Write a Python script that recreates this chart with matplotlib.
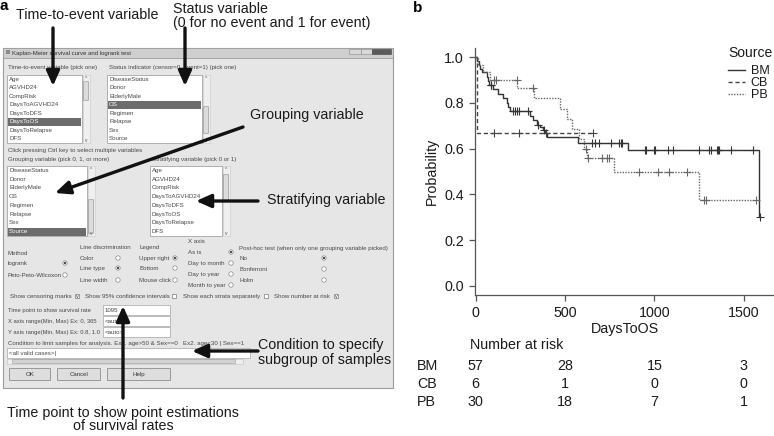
import numpy as np
import matplotlib
matplotlib.use('Agg')
import matplotlib.pyplot as plt
from matplotlib.patches import Rectangle, Circle, FancyBboxPatch
from matplotlib.lines import Line2D
from matplotlib.transforms import blended_transform_factory

plt.rcParams['font.family'] = ['Liberation Sans', 'DejaVu Sans']

# ---------------- panel b: Kaplan-Meier data ----------------
bm_time = [0, 8, 16, 26, 34, 61, 68, 76, 99, 127, 155, 173, 183, 192, 304, 322,
           341, 360, 375, 388, 401, 573, 854, 1586, 1593]
bm_surv = [1.0, 0.982, 0.965, 0.947, 0.935, 0.912, 0.895, 0.877, 0.859, 0.840,
           0.821, 0.800, 0.782, 0.763, 0.741, 0.724, 0.705, 0.695, 0.680, 0.668,
           0.653, 0.625, 0.595, 0.300, 0.300]
bm_cens = [83, 88, 207, 220, 233, 240, 294, 350, 382, 650, 668, 690, 760, 805,
           812, 818, 947, 953, 998, 1003, 1078, 1106, 1251, 1307, 1317, 1352,
           1358, 1364, 1432, 1553, 1593]

cb_time = [0, 5, 658]
cb_surv = [1.0, 0.667, 0.667]
cb_cens = [104, 244, 393, 658]

pb_time = [0, 12, 40, 80, 233, 328, 471, 512, 537, 580, 608, 622, 774, 1251, 1568]
pb_surv = [1.0, 0.967, 0.933, 0.900, 0.865, 0.820, 0.775, 0.730, 0.685, 0.640,
           0.600, 0.560, 0.497, 0.375, 0.375]
pb_cens = [104, 114, 229, 322, 615, 626, 708, 733, 748, 915, 1018, 1083, 1183,
           1280, 1290, 1568]

risk_times = [0, 500, 1000, 1500]
risk_bm = [57, 28, 15, 3]
risk_cb = [6, 1, 0, 0]
risk_pb = [30, 18, 7, 1]
y_ticks = [0.0, 0.2, 0.4, 0.6, 0.8, 1.0]

# ---------------- panel a: dialog contents ----------------
time_items = ['Age', 'AGVHD24', 'CompRisk', 'DaysToAGVHD24', 'DaysToDFS',
              'DaysToOS', 'DaysToRelapse', 'DFS']
status_items = ['DiseaseStatus', 'Donor', 'ElderlyMale', 'OS', 'Regimen',
                'Relapse', 'Sex', 'Source']
method_opts = ['logrank', 'Peto-Peto-Wilcoxon']
line_opts = ['Color', 'Line type', 'Line width']
legend_opts = ['Upper right', 'Bottom', 'Mouse click']
xaxis_opts = ['As is', 'Day to month', 'Day to year', 'Month to year']
posthoc_opts = ['No', 'Bonferroni', 'Holm']
check_opts = ['Show censoring marks', 'Show 95% confidence intervals',
              'Show each strata separately', 'Show number at risk']
check_state = [True, False, False, True]
field_labels = ['Time point to show survival rate',
                'X axis range(Min, Max) Ex: 0, 365',
                'Y axis range(Min, Max) Ex: 0.8, 1.0']
field_values = ['1095', '<auto>', '<auto>']
buttons = ['OK', 'Cancel', 'Help']

GUI_TXT = '#474747'
INK = '#1a1a1a'
SMALL = 4.4
BIG = 10.3

fig = plt.figure(figsize=(7.74, 4.36), dpi=100)
ov = fig.add_axes([0, 0, 1, 1])
ov.set_xlim(0, 774)
ov.set_ylim(436, 0)
ov.axis('off')


def listbox(x, y, w, h, items, selected, thumb):
    ov.add_patch(Rectangle((x, y), w, h, fc='white', ec='#a5a5a5', lw=0.6))
    step = h / len(items)
    for i, name in enumerate(items):
        cy = y + step * (i + 0.5)
        col = GUI_TXT
        if name == selected:
            ov.add_patch(Rectangle((x + 0.8, cy - step / 2 + 0.4), w - 1.6, step - 0.8,
                                   fc='#6c6c6c', ec='none'))
            col = 'white'
        ov.text(x + 2, cy, name, fontsize=SMALL, color=col, va='center')
    # scrollbar
    ov.add_patch(Rectangle((x + w + 0.5, y), 7, h, fc='#efefef', ec='#c8c8c8', lw=0.4))
    ov.add_patch(FancyBboxPatch((x + w + 1.8, thumb[0]), 4.4, thumb[1] - thumb[0],
                                boxstyle='round,pad=0.3', fc='#dcdcdc', ec='#9a9a9a', lw=0.5))
    ov.text(x + w + 4, y + 3, '^', fontsize=3.5, color='#555555', ha='center', va='center')
    ov.text(x + w + 4, y + h - 3, 'v', fontsize=3.5, color='#555555', ha='center', va='center')


def radio_group(title, tx, ty, opts, ys, rx, sel):
    ov.text(tx, ty, title, fontsize=SMALL, color=GUI_TXT, va='center')
    for i, (name, yy) in enumerate(zip(opts, ys)):
        ov.text(tx, yy, name, fontsize=SMALL, color=GUI_TXT, va='center')
        ov.add_patch(Circle((rx, yy), 2.2, fc='white', ec='#8a8a8a', lw=0.5))
        if i == sel:
            ov.add_patch(Circle((rx, yy), 1.2, fc='#444444', ec='none'))


def arrow(tail, head):
    ov.annotate('', xy=head, xytext=tail,
                arrowprops=dict(arrowstyle='-|>,head_length=0.9,head_width=0.4',
                                lw=2.4, color='#111111', mutation_scale=10,
                                shrinkA=0, shrinkB=0), zorder=10)


# window
ov.add_patch(Rectangle((3, 48), 390, 340, fc='#e6e6e6', ec='#9c9c9c', lw=0.8))
ov.add_patch(Rectangle((3, 48), 390, 10, fc='#cfcfcf', ec='#9c9c9c', lw=0.6))
ov.add_patch(Rectangle((6, 50.5), 4, 4, fc='#8c8c8c', ec='none'))
ov.text(12, 53, 'Kaplan-Meier survival curve and logrank test', fontsize=4.3,
        color='#333333', va='center')
ov.add_patch(Rectangle((349, 49), 12, 5, fc='#d8d8d8', ec='#8a8a8a', lw=0.4))
ov.add_patch(Rectangle((361, 49), 11, 5, fc='#d8d8d8', ec='#8a8a8a', lw=0.4))
ov.add_patch(Rectangle((372, 49), 19, 5, fc='#5a5a5a', ec='#444444', lw=0.4))

ov.text(8, 68, 'Time-to-event variable (pick one)', fontsize=SMALL, color=GUI_TXT, va='center')
ov.text(109, 68, 'Status indicator (censor=0, event=1) (pick one)', fontsize=SMALL,
        color=GUI_TXT, va='center')
listbox(7, 75, 75, 68, time_items, 'DaysToOS', (82, 100))
listbox(107, 75, 95, 68, status_items, 'OS', (107, 133))
ov.text(8, 150, 'Click pressing Ctrl key to select multiple variables', fontsize=SMALL,
        color=GUI_TXT, va='center')
ov.text(8, 159, 'Grouping variable (pick 0, 1, or more)', fontsize=SMALL, color=GUI_TXT,
        va='center')
ov.text(152, 159, 'Stratifying variable (pick 0 or 1)', fontsize=SMALL, color=GUI_TXT,
        va='center')
listbox(7, 166, 80, 70, status_items, 'Source', (200, 233))
listbox(150, 166, 72, 70, time_items, None, (175, 200))

radio_group('Method', 8, 253, method_opts, [263, 275], 65, 0)
radio_group('Line discrimination', 80, 247, line_opts, [258, 268, 280], 118, 1)
radio_group('Legend', 139, 247, legend_opts, [258, 268, 280], 175, 0)
radio_group('X axis', 188, 241, xaxis_opts, [252, 263, 274, 285], 231, 0)
radio_group('Post-hoc test (when only one grouping variable picked)', 239, 248,
            posthoc_opts, [258, 269, 280], 324, 0)

check_x = [10, 85, 183, 274]
box_x = [77, 174, 266, 336]
for name, state, tx, bx in zip(check_opts, check_state, check_x, box_x):
    ov.text(tx, 296, name, fontsize=SMALL, color=GUI_TXT, va='center')
    ov.add_patch(Rectangle((bx - 2, 294), 4, 4, fc='white', ec='#7a7a7a', lw=0.5))
    if state:
        ov.text(bx, 296, 'v', fontsize=4, color='#333333', ha='center', va='center')

for lab, val, yy in zip(field_labels, field_values, [310, 321, 332]):
    ov.text(8, yy, lab, fontsize=4.2, color=GUI_TXT, va='center')
    ov.add_patch(Rectangle((103, yy - 5), 67, 10, fc='white', ec='#a5a5a5', lw=0.5))
    ov.text(105, yy, val, fontsize=SMALL, color=GUI_TXT, va='center')
ov.text(8, 343, 'Condition to limit samples for analysis. Ex1. age>50 & Sex==0   '
        'Ex2. age<30 | Sex==1', fontsize=SMALL, color=GUI_TXT, va='center')
ov.add_patch(Rectangle((7, 348), 243, 10, fc='white', ec='#a5a5a5', lw=0.5))
ov.text(9, 353, '<all valid cases>|', fontsize=SMALL, color=GUI_TXT, va='center')
ov.add_patch(Rectangle((7, 359), 236, 5, fc='#efefef', ec='#bdbdbd', lw=0.4))
ov.add_patch(FancyBboxPatch((13, 360), 222, 3, boxstyle='round,pad=0.4',
                            fc='#d2d2d2', ec='#9a9a9a', lw=0.4))
for name, bx, bw in zip(buttons, [10, 58, 108], [40, 42, 62]):
    ov.add_patch(FancyBboxPatch((bx, 369), bw, 11, boxstyle='round,pad=0.5',
                                fc='#dedede', ec='#8e8e8e', lw=0.6))
    ov.text(bx + bw / 2, 374.5, name, fontsize=SMALL, color='#333333',
            ha='center', va='center')

# callouts
ov.text(0, 6, 'a', fontsize=11, fontweight='bold', va='center')
ov.text(413, 8, 'b', fontsize=11, fontweight='bold', va='center')
ov.text(87, 15, 'Time-to-event variable', fontsize=BIG, ha='center', va='center', color=INK)
ov.text(173, 9, 'Status variable', fontsize=BIG, va='center', color=INK)
ov.text(173, 23, '(0 for no event and 1 for event)', fontsize=BIG, va='center', color=INK)
ov.text(250, 115, 'Grouping variable', fontsize=BIG, va='center', color=INK)
ov.text(267, 200, 'Stratifying variable', fontsize=BIG, va='center', color=INK)
ov.text(258, 345, 'Condition to specify', fontsize=BIG, va='center', color=INK)
ov.text(258, 360, 'subgroup of samples', fontsize=BIG, va='center', color=INK)
ov.text(123, 413, 'Time point to show point estimations', fontsize=BIG, ha='center',
        va='center', color=INK)
ov.text(123, 426, 'of survival rates', fontsize=BIG, ha='center', va='center', color=INK)
arrow((53, 28), (53, 86))
arrow((185, 28), (185, 86))
arrow((243, 127), (55, 193))
arrow((258, 201), (196, 201))
arrow((123, 398), (123, 306))
arrow((258, 351), (192, 351))

# ---------------- panel b ----------------
ax = fig.add_axes([475 / 774, 1 - 295 / 436, 299 / 774, 247 / 436])
series = [('BM', bm_time, bm_surv, bm_cens, '-', '#333333'),
          ('CB', cb_time, cb_surv, cb_cens, (0, (3, 2)), '#444444'),
          ('PB', pb_time, pb_surv, pb_cens, (0, (1, 1)), '#666666')]
handles = []
for name, t, s, c, ls, col in series:
    ax.step(t, s, where='post', ls=ls, color=col, lw=1.0)
    idx = np.searchsorted(t, c, side='right') - 1
    ax.plot(c, np.asarray(s)[idx], ls='none', marker='+', ms=6, mew=0.8, color=col)
    handles.append(Line2D([], [], ls=ls, color=col, lw=1.0))

ax.set_xlim(-4, 1670)
ax.set_ylim(-0.04, 1.04)
ax.set_xticks(risk_times)
ax.set_yticks(y_ticks)
ax.set_yticklabels([f'{v:.1f}' for v in y_ticks])
ax.spines['top'].set_visible(False)
ax.spines['right'].set_visible(False)
for sp in ('left', 'bottom'):
    ax.spines[sp].set_color('#555555')
    ax.spines[sp].set_linewidth(0.9)
ax.tick_params(direction='out', length=4, width=0.9, colors='#555555',
               labelcolor=INK, labelsize=BIG, pad=4)
ax.set_xlabel('DaysToOS', fontsize=BIG, color=INK, labelpad=1)
ax.set_ylabel('Probability', fontsize=BIG, color=INK, labelpad=4)
ax.patch.set_alpha(0)

leg = ax.legend(handles, ['BM', 'CB', 'PB'], title='Source', loc='upper right',
                bbox_to_anchor=(0.995, 1.01), frameon=False, fontsize=9,
                title_fontsize=10, handlelength=1.3, handletextpad=0.5,
                labelspacing=0, borderpad=0, borderaxespad=0)
leg._legend_box.align = 'left'
leg._legend_box.sep = 4
for txt in leg.get_texts():
    txt.set_color(INK)
leg.get_title().set_color(INK)

tr = blended_transform_factory(ax.transData, ov.transData)
ov.text(470, 345, 'Number at risk', fontsize=BIG, va='center', color=INK)
for name, row, yy in zip(['BM', 'CB', 'PB'], [risk_bm, risk_cb, risk_pb], [366, 384, 402]):
    ov.text(417, yy, name, fontsize=BIG, va='center', color=INK)
    for t, n in zip(risk_times, row):
        ov.text(t, yy, str(n), transform=tr, fontsize=BIG, ha='center', va='center',
                color=INK)

fig.savefig('out.png', dpi=100)
